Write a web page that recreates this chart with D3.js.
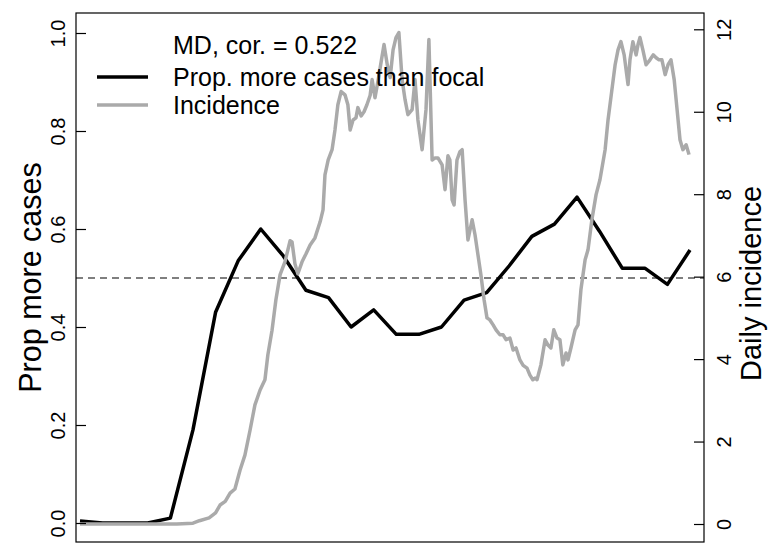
<!DOCTYPE html>
<html><head><meta charset="utf-8">
<script src="https://cdn.jsdelivr.net/npm/d3@7"></script>
<style>body{margin:0;background:#fff}svg{display:block}text{font-family:"Liberation Sans",Arial,sans-serif}</style>
</head><body><svg id="c" width="768" height="544"></svg>
<script>
const propWeeks = d3.range(0, 28);
const propValues = [0.004,0.0,0.0,0.0,0.01,0.19,0.43,0.535,0.60,0.545,0.475,0.46,0.40,0.435,0.385,0.385,0.40,0.455,0.47,0.525,0.585,0.61,0.665,0.595,0.52,0.52,0.487,0.557];
const incDays = [0,10,20,30,35,37,40,42,43.4,45,46.5,48,49.6,51.1,52.7,54.2,55.8,57.3,58.2,59.5,60.7,62,63.5,65.1,65.7,66.6,67.5,68.8,70,71.3,72.8,74.4,75.3,75.9,76.9,78.1,79,79.9,80.9,82.1,83,83.7,84.6,85.5,86.1,87.1,88,88.9,89.9,90.5,91.4,92.4,93.3,94.2,95.2,96.1,97,97.9,98.8,99.8,100.7,101.6,102.9,103.8,104.7,106,107.2,108.1,109.1,110,110.9,112.2,113.1,114,114.6,115.3,115.9,116.8,117.7,118.4,119.3,120.2,121.5,122.4,123.3,124.2,125.2,126.1,127,128,128.9,130.1,131.1,132,133.2,134.2,135.1,136.3,137.3,138.5,139.4,140.3,141,141.6,142.8,144.1,145,145.9,146.8,147.8,148.7,149.6,150.6,151.2,152.1,153.4,154.3,155.2,156.5,157.4,158.6,159.9,161.1,162.7,163.6,164.8,165.8,166.7,167.6,168.6,169.2,169.8,170.4,171.3,172.3,172.9,173.5,174.4,175.4,176.6,177.6,178.5,179.4,180.3,181.3,182.2,183.1,184.1,185,185.9,186.8,187.8,188.7];
const incValues = [0,0,0,0,0.02,0.08,0.15,0.27,0.46,0.55,0.75,0.85,1.31,1.67,2.28,2.89,3.25,3.5,4.1,4.7,5.44,6.05,6.36,6.87,6.84,6.31,6.07,6.36,6.55,6.77,6.94,7.33,7.62,8.47,8.83,9.08,9.56,10.17,10.49,10.41,10.17,9.56,9.8,9.85,10.1,9.9,10.0,10.17,10.4,10.78,10.34,10.78,11.21,11.63,11.14,10.83,11.5,11.8,11.92,10.78,10.3,9.93,10.05,10.78,9.8,9.08,10.05,11.75,8.83,8.88,8.88,8.71,8.11,8.93,8.83,7.86,7.74,8.83,9.03,9.08,7.86,6.89,7.38,7.01,6.53,6.05,5.44,5.0,4.95,4.83,4.71,4.59,4.59,4.47,4.51,4.22,4.27,3.98,3.85,3.78,3.61,3.5,3.54,3.5,3.86,4.47,4.34,4.27,4.71,4.51,4.47,3.86,4.15,3.98,4.27,4.71,4.83,5.68,6.41,6.65,7.38,7.99,8.35,9.08,9.8,10.53,11.14,11.5,11.7,11.38,11.02,10.66,11.26,11.7,11.38,11.63,11.8,11.5,11.14,11.26,11.38,11.31,11.26,11.26,10.9,11.14,11.26,10.78,10.05,9.32,9.08,9.2,8.96];
const leftTicks = [0,0.2,0.4,0.6,0.8,1.0];
const rightTicks = [0,2,4,6,8,10,12];
const legendTitle = "MD, cor. = 0.522";
const legendLabels = ["Prop. more cases than focal","Incidence"];
const refLine = 0.5;

const svg = d3.select("#c");
const box = {l:76, r:704, t:13, b:542};
const x = d3.scaleLinear().domain([0,189]).range([80,690]);
const yL = d3.scaleLinear().domain([0,1]).range([523,33]);
const yR = d3.scaleLinear().domain([0,12]).range([524,29.3]);

svg.append("rect").attr("x",box.l).attr("y",box.t).attr("width",box.r-box.l).attr("height",box.b-box.t)
  .attr("fill","none").attr("stroke","#000").attr("stroke-width",1.2);

svg.append("line").attr("x1",box.l).attr("x2",box.r).attr("y1",yL(refLine)).attr("y2",yL(refLine))
  .attr("stroke","#000").attr("stroke-width",1.2).attr("stroke-dasharray","7,5");

svg.append("clipPath").attr("id","pc").append("rect")
  .attr("x",box.l).attr("y",box.t).attr("width",box.r-box.l).attr("height",box.b-box.t);
const g = svg.append("g").attr("clip-path","url(#pc)");

g.append("path").datum(propWeeks.map((w,i)=>[w*7,propValues[i]]))
  .attr("fill","none").attr("stroke","#000").attr("stroke-width",3.5).attr("stroke-linejoin","round")
  .attr("d",d3.line().x(d=>x(d[0])).y(d=>yL(d[1])));
g.append("path").datum(incDays.map((d,i)=>[d,incValues[i]]))
  .attr("fill","none").attr("stroke","#aaaaaa").attr("stroke-width",3.5).attr("stroke-linejoin","round")
  .attr("d",d3.line().x(d=>x(d[0])).y(d=>yR(d[1])));

// left axis
const la = svg.append("g").attr("transform",`translate(${box.l},0)`)
  .call(d3.axisLeft(yL).tickValues(leftTicks).tickSize(-10).tickPadding(0).tickFormat(d3.format(".1f")));
la.select(".domain").remove();
la.selectAll("line").attr("stroke","#000").attr("stroke-width",1.2);
la.selectAll("text").attr("x",0).attr("y",0).attr("dy",null)
  .attr("transform","translate(-11,0) rotate(-90)")
  .attr("text-anchor","middle").attr("font-size",20).attr("fill","#000");

// right axis
const ra = svg.append("g").attr("transform",`translate(${box.r},0)`)
  .call(d3.axisRight(yR).tickValues(rightTicks).tickSize(-10).tickPadding(0).tickFormat(d3.format("d")));
ra.select(".domain").remove();
ra.selectAll("line").attr("stroke","#000").attr("stroke-width",1.2);
ra.selectAll("text").attr("x",0).attr("y",0).attr("dy",null)
  .attr("transform","translate(27,0) rotate(-90)")
  .attr("text-anchor","middle").attr("font-size",20).attr("fill","#000");

// axis titles
svg.append("text").attr("transform",`translate(41,${(box.t+box.b)/2}) rotate(-90)`)
  .attr("text-anchor","middle").attr("font-size",30.5).text("Prop more cases");
svg.append("text").attr("transform",`translate(761,${(box.t+box.b)/2+6}) rotate(-90)`)
  .attr("text-anchor","middle").attr("font-size",29).text("Daily incidence");

// legend
const lg = svg.append("g");
lg.append("text").attr("x",173).attr("y",54).attr("font-size",25).text(legendTitle);
const lcols = ["#000","#aaaaaa"];
legendLabels.forEach((t,i)=>{
  const yy = 77 + i*28;
  lg.append("line").attr("x1",97).attr("x2",148).attr("y1",yy).attr("y2",yy)
    .attr("stroke",lcols[i]).attr("stroke-width",3.5);
  lg.append("text").attr("x",173).attr("y",yy+9).attr("font-size",25).text(t);
});
</script></body></html>
